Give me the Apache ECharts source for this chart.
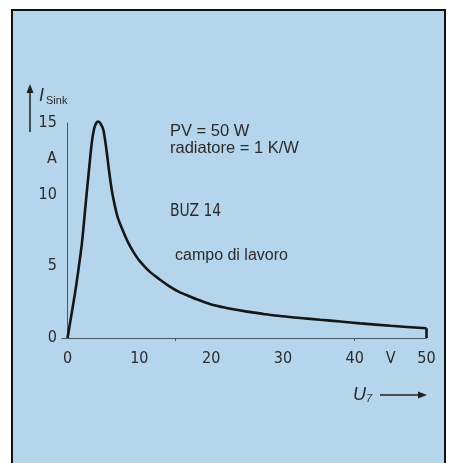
<!DOCTYPE html>
<html>
<head>
<meta charset="utf-8">
<script src="https://cdn.jsdelivr.net/npm/echarts@6/dist/echarts.min.js"></script>
<style>
html,body{margin:0;padding:0;background:#fff;}
#c{width:454px;height:463px;}
</style>
</head>
<body>
<div id="c"></div>
<script>
// U (V) values along the curve
const uValues = [0, 0.5, 1.0, 1.5, 2.0, 2.44, 2.9, 3.37, 3.7, 4.0, 4.3, 4.6, 5.0, 5.4, 5.8, 6.2, 6.6, 7.0, 7.7, 8.5, 9.3, 10, 11.4, 12.8, 14.2, 15.6, 16.8, 18, 19.2, 20.3, 22.5, 25, 27.3, 29.6, 32.4, 35.2, 38, 40.8, 45, 50];
// I Sink (A) values along the curve
const iValues = [0, 1.5, 3.0, 4.7, 6.6, 8.9, 11.3, 13.6, 14.6, 15.0, 15.1, 14.95, 14.5, 13.2, 11.6, 10.2, 9.2, 8.4, 7.5, 6.6, 5.9, 5.4, 4.65, 4.1, 3.6, 3.2, 2.95, 2.7, 2.48, 2.3, 2.06, 1.84, 1.68, 1.53, 1.4, 1.27, 1.15, 1.02, 0.85, 0.68];
const xTickLabels = [0, 10, 20, 30, 40, 50];
const xUnitLabel = {value: 45, text: 'V'};
const yTickLabels = [0, 5, 10, 15];
const yUnitLabel = {value: 12.5, text: 'A'};
const notes = ['PV = 50 W', 'radiatore = 1 K/W'];
const deviceLabel = 'BUZ 14';
const areaLabel = 'campo di lavoro';

const curve = uValues.map((u, i) => [u, iValues[i]]);
const last = curve.length - 1;
const drop = [[uValues[last], iValues[last]], [uValues[last], 0]];

const chart = echarts.init(document.getElementById('c'), null, {renderer: 'canvas'});
const labelFont = "'Liberation Sans Narrow','DejaVu Sans Condensed',sans-serif";
const textFont = "'Liberation Sans',Arial,sans-serif";
const textColor = '#2b2b2b';

chart.setOption({
  backgroundColor: '#ffffff',
  animation: false,
  grid: {left: 61.8, right: 27.5, top: 123, bottom: 125, containLabel: false},
  xAxis: {
    type: 'value', min: -0.8, max: 50,
    axisLine: {show: true, onZero: false, lineStyle: {color: '#4a5560', width: 1}},
    axisTick: {show: true, customValues: [15, 40], length: 3, lineStyle: {color: '#4a5560'}},
    splitLine: {show: false},
    axisLabel: {
      customValues: xTickLabels.concat([xUnitLabel.value]),
      formatter: v => v === xUnitLabel.value ? xUnitLabel.text : String(v),
      fontFamily: labelFont, fontSize: 16, color: textColor, margin: 13
    }
  },
  yAxis: {
    type: 'value', min: 0, max: 15,
    axisLine: {show: true, onZero: true, lineStyle: {color: '#4a5560', width: 1}},
    axisTick: {show: false},
    splitLine: {show: false},
    axisLabel: {
      customValues: yTickLabels.concat([yUnitLabel.value]),
      formatter: v => v === yUnitLabel.value ? yUnitLabel.text : String(v),
      fontFamily: labelFont, fontSize: 16, color: textColor, margin: 5
    }
  },
  series: [
    {type: 'line', data: curve, smooth: 0.25, symbol: 'none', clip: false,
     lineStyle: {color: '#161616', width: 2.6}},
    {type: 'line', data: drop, smooth: false, symbol: 'none', clip: false,
     lineStyle: {color: '#161616', width: 2.6}}
  ],
  graphic: [
    {type: 'rect', z: -10, shape: {x: 12, y: 10, width: 433, height: 460},
     style: {fill: '#b5d5ec', stroke: '#111', lineWidth: 2}},
    // y title arrow
    {type: 'line', shape: {x1: 30, y1: 132, x2: 30, y2: 90}, style: {stroke: '#222', lineWidth: 1.5}},
    {type: 'polygon', shape: {points: [[30, 84], [26.5, 93], [33.5, 93]]}, style: {fill: '#222'}},
    {type: 'text', left: 39, top: 87, style: {
      text: '{i|I}{s|Sink}', rich: {
        i: {fontFamily: textFont, fontStyle: 'italic', fontSize: 18, fill: textColor},
        s: {fontFamily: textFont, fontSize: 11, fill: textColor, padding: [9, 0, 0, 2]}
      }}},
    // x title arrow
    {type: 'text', left: 353, top: 386, style: {
      text: '{u|U}{s|7}', rich: {
        u: {fontFamily: textFont, fontStyle: 'italic', fontSize: 18, fill: textColor},
        s: {fontFamily: textFont, fontStyle: 'italic', fontSize: 11, fill: textColor, padding: [8, 0, 0, 0]}
      }}},
    {type: 'line', shape: {x1: 380, y1: 395, x2: 420, y2: 395}, style: {stroke: '#222', lineWidth: 1.5}},
    {type: 'polygon', shape: {points: [[427, 395], [418, 391.5], [418, 398.5]]}, style: {fill: '#222'}},
    // annotations
    {type: 'text', left: 170, top: 123, style: {text: notes[0], fontFamily: textFont, fontSize: 16.5, fill: textColor}},
    {type: 'text', left: 170, top: 140, style: {text: notes[1], fontFamily: textFont, fontSize: 16.5, fill: textColor}},
    {type: 'text', left: 170, top: 202, scaleX: 0.86, style: {text: deviceLabel, fontFamily: labelFont, fontSize: 18, fill: textColor}},
    {type: 'text', left: 175, top: 248, style: {text: areaLabel, fontFamily: textFont, fontSize: 16, fill: textColor}}
  ]
});
</script>
</body>
</html>
